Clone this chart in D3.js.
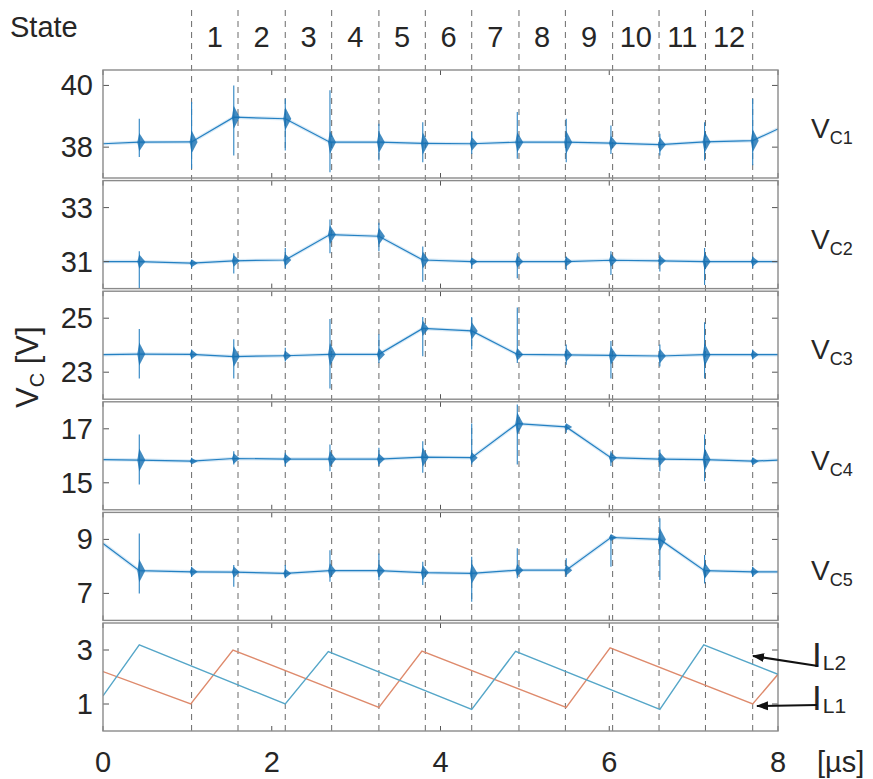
<!DOCTYPE html>
<html>
<head>
<meta charset="utf-8">
<script src="https://cdn.jsdelivr.net/npm/d3@7"></script>
<style>
  body { margin: 0; background: #fff; }
  text { font-family: "Liberation Sans", Arial, Helvetica, sans-serif; fill: #262626; }
</style>
</head>
<body>
<svg id="chart" width="873" height="779"></svg>
<script>
// ---- time axis (µs) ----
const xTicks = [0, 2, 4, 6, 8];
const stateEdges = [1.05, 1.60, 2.16, 2.71, 3.27, 3.82, 4.37, 4.93, 5.48, 6.04, 6.59, 7.14, 7.70];
const stateLabels = ["1", "2", "3", "4", "5", "6", "7", "8", "9", "10", "11", "12"];

// switching instants where the capacitor voltages ring
const switchTimes = [0.43, 1.05, 1.55, 2.16, 2.69, 3.27, 3.79, 4.37, 4.91, 5.49, 6.02, 6.60, 7.13, 7.70];

// capacitor voltage traces, sampled at these instants
const traceT = [0, 0.43, 1.05, 1.55, 2.16, 2.69, 3.27, 3.79, 4.37, 4.91, 5.49, 6.02, 6.60, 7.13, 7.70, 8.0];
const vc1 = [38.11, 38.16, 38.17, 38.97, 38.92, 38.16, 38.16, 38.12, 38.11, 38.16, 38.16, 38.13, 38.08, 38.17, 38.21, 38.59];
const vc2 = [31.0, 31.0, 30.94, 31.03, 31.06, 32.0, 31.94, 31.06, 31.0, 31.0, 31.0, 31.05, 31.03, 31.0, 31.0, 31.0];
const vc3 = [23.65, 23.67, 23.66, 23.58, 23.61, 23.66, 23.66, 24.62, 24.53, 23.66, 23.64, 23.62, 23.60, 23.65, 23.65, 23.65];
const vc4 = [15.86, 15.84, 15.80, 15.90, 15.88, 15.88, 15.88, 15.95, 15.93, 17.19, 17.07, 15.93, 15.88, 15.86, 15.80, 15.84];
const vc5 = [8.85, 7.84, 7.80, 7.79, 7.74, 7.84, 7.84, 7.77, 7.74, 7.86, 7.86, 9.07, 9.00, 7.84, 7.80, 7.80];

// ringing extremes at each switching instant (upper / lower)
const vc1Hi = [38.92, 39.46, 40.0, 39.57, 39.84, 38.76, 38.81, 38.49, 39.14, 38.92, 38.70, 38.43, 38.81, 39.57];
const vc1Lo = [37.68, 37.30, 37.73, 37.89, 37.19, 37.57, 37.51, 37.78, 37.62, 37.51, 37.78, 37.73, 37.57, 37.41];
const vc2Hi = [31.38, 31.06, 31.31, 31.50, 32.56, 32.44, 31.56, 31.13, 31.31, 31.19, 31.38, 31.25, 31.50, 31.19];
const vc2Lo = [30.00, 30.75, 30.56, 30.75, 31.31, 31.38, 30.25, 30.75, 30.38, 30.69, 30.50, 30.63, 30.13, 30.75];
const vc3Hi = [24.60, 23.84, 24.22, 23.91, 24.97, 24.41, 25.04, 25.04, 25.40, 24.03, 24.16, 24.03, 24.85, 23.84];
const vc3Lo = [22.77, 23.47, 22.77, 23.40, 22.40, 23.34, 23.59, 23.84, 23.34, 23.28, 22.77, 23.21, 22.77, 23.47];
const vc4Hi = [16.79, 15.93, 16.17, 16.11, 16.42, 16.30, 16.54, 17.20, 17.90, 17.16, 16.17, 16.23, 16.79, 15.93];
const vc4Lo = [14.94, 15.74, 15.68, 15.62, 15.43, 15.62, 15.37, 15.68, 15.68, 16.85, 15.62, 15.43, 15.06, 15.68];
const vc5Hi = [9.22, 7.99, 8.05, 8.05, 8.60, 8.48, 8.17, 8.36, 8.67, 8.30, 9.16, 9.78, 8.42, 7.99];
const vc5Lo = [7.00, 7.62, 7.25, 7.56, 7.43, 7.49, 7.31, 6.69, 7.56, 7.62, 7.99, 7.50, 7.37, 7.62];

// axis ranges and ticks per panel
const vcDomains = [[37, 40.5], [30, 34], [22, 26], [14, 18], [6, 10]];
const vcTicks = [[38, 40], [31, 33], [23, 25], [15, 17], [7, 9]];
const vcNames = ["C1", "C2", "C3", "C4", "C5"];

// inductor currents (A)
const il1T = [0, 1.04, 1.54, 3.27, 3.78, 5.49, 6.01, 7.70, 8.0];
const il1 = [2.2, 1.0, 3.0, 0.87, 2.96, 0.87, 3.08, 1.0, 2.1];
const il2T = [0, 0.43, 2.16, 2.67, 4.37, 4.89, 6.60, 7.12, 8.0];
const il2 = [1.3, 3.19, 1.0, 2.94, 0.8, 2.95, 0.8, 3.19, 2.1];
const ilDomain = [0, 4];
const ilTicks = [1, 3];

// ---- layout ----
const svg = d3.select("#chart");
svg.append("rect").attr("width", 873).attr("height", 779).attr("fill", "#fff");

const x = d3.scaleLinear().domain([0, 8]).range([103, 778]);
const panelH = 108;
const panelTop = i => 70 + i * 110.6;
const fs = 29;

const defs = svg.append("defs");
defs.append("marker").attr("id", "arr")
  .attr("viewBox", "0 0 12 10").attr("refX", 11).attr("refY", 5)
  .attr("markerWidth", 12).attr("markerHeight", 10)
  .attr("markerUnits", "userSpaceOnUse").attr("orient", "auto")
  .append("path").attr("d", "M12,5 L0,0.5 L0,9.5 Z").attr("fill", "#111");

function interp(ts, vs, t) {
  for (let i = 0; i < ts.length - 1; i++) {
    if (t >= ts[i] && t <= ts[i + 1]) {
      const f = (t - ts[i]) / (ts[i + 1] - ts[i]);
      return vs[i] + f * (vs[i + 1] - vs[i]);
    }
  }
  return vs[vs.length - 1];
}

function panelFrame(i, y, ticks) {
  const top = panelTop(i), bot = top + panelH;
  const g = svg.append("g");
  // y ticks, mirrored on both sides
  ticks.forEach(v => {
    g.append("line").attr("x1", x(0)).attr("x2", x(0) + 6).attr("y1", y(v)).attr("y2", y(v))
      .attr("stroke", "#555").attr("stroke-width", 1);
    g.append("line").attr("x1", x(8)).attr("x2", x(8) - 6).attr("y1", y(v)).attr("y2", y(v))
      .attr("stroke", "#555").attr("stroke-width", 1);
    g.append("text").attr("x", 93).attr("y", y(v) + 10).attr("text-anchor", "end")
      .attr("font-size", fs).text(v);
  });
  xTicks.forEach(t => {
    g.append("line").attr("x1", x(t)).attr("x2", x(t)).attr("y1", top).attr("y2", top + 5)
      .attr("stroke", "#555").attr("stroke-width", 1);
    g.append("line").attr("x1", x(t)).attr("x2", x(t)).attr("y1", bot).attr("y2", bot - 5)
      .attr("stroke", "#555").attr("stroke-width", 1);
  });
  g.append("rect").attr("x", x(0)).attr("y", top).attr("width", x(8) - x(0)).attr("height", panelH)
    .attr("fill", "none").attr("stroke", "#8a8a8a").attr("stroke-width", 1.4);
  defs.append("clipPath").attr("id", "clip" + i)
    .append("rect").attr("x", x(0)).attr("y", top).attr("width", x(8) - x(0)).attr("height", panelH);
}

// ---- state boundaries ----
const gDash = svg.append("g");
stateEdges.forEach(t => {
  gDash.append("line").attr("x1", x(t)).attr("x2", x(t)).attr("y1", 10).attr("y2", panelTop(5) + panelH)
    .attr("stroke", "#6a6a6a").attr("stroke-width", 1).attr("stroke-dasharray", "6,5");
});
svg.append("text").attr("x", 10).attr("y", 37).attr("font-size", fs).text("State");
stateLabels.forEach((s, i) => {
  svg.append("text").attr("x", (x(stateEdges[i]) + x(stateEdges[i + 1])) / 2).attr("y", 47)
    .attr("text-anchor", "middle").attr("font-size", fs).text(s);
});

// ---- capacitor voltage panels ----
const vcSeries = [vc1, vc2, vc3, vc4, vc5];
const vcHi = [vc1Hi, vc2Hi, vc3Hi, vc4Hi, vc5Hi];
const vcLo = [vc1Lo, vc2Lo, vc3Lo, vc4Lo, vc5Lo];

vcSeries.forEach((vals, i) => {
  const top = panelTop(i);
  const y = d3.scaleLinear().domain(vcDomains[i]).range([top + panelH, top]);
  const g = svg.append("g").attr("clip-path", `url(#clip${i})`);
  const pts = traceT.map((t, k) => ({ t, v: vals[k] }));
  const line = d3.line().x(d => x(d.t)).y(d => y(d.v));
  // measurement noise band
  g.append("path").attr("d", line(pts)).attr("fill", "none")
    .attr("stroke", "#7ab6e0").attr("stroke-width", 3.5).attr("stroke-opacity", 0.3);
  g.append("path").attr("d", line(pts)).attr("fill", "none")
    .attr("stroke", "#2480c2").attr("stroke-width", 1.2);
  // ringing at each switching instant
  switchTimes.forEach((t, k) => {
    const base = interp(traceT, vals, t);
    const px = x(t), py = y(base);
    const yHi = y(vcHi[i][k]), yLo = y(vcLo[i][k]);
    g.append("line").attr("x1", px).attr("x2", px).attr("y1", yHi).attr("y2", yLo)
      .attr("stroke", "#2a82c2").attr("stroke-width", 1.1);
    const h = Math.min(9, 0.45 * Math.min(py - yHi, yLo - py)) + 2.5;
    g.append("path")
      .attr("d", `M${px - 2},${py} L${px},${py - h} L${px + 6},${py} L${px},${py + h} Z`)
      .attr("fill", "#156fb2").attr("fill-opacity", 0.8);
  });
  panelFrame(i, y, vcTicks[i]);
  const lbl = svg.append("text").attr("x", 811).attr("y", top + panelH / 2 + 14).attr("font-size", 28);
  lbl.append("tspan").text("V");
  lbl.append("tspan").attr("font-size", 18).attr("dy", 6).text(vcNames[i]);
});

// ---- inductor current panel ----
{
  const i = 5;
  const top = panelTop(i);
  const y = d3.scaleLinear().domain(ilDomain).range([top + panelH, top]);
  const g = svg.append("g").attr("clip-path", `url(#clip${i})`);
  const line = d3.line().x(d => x(d.t)).y(d => y(d.v));
  g.append("path").attr("d", line(il1T.map((t, k) => ({ t, v: il1[k] }))))
    .attr("fill", "none").attr("stroke", "#de8a6c").attr("stroke-width", 1.4);
  g.append("path").attr("d", line(il2T.map((t, k) => ({ t, v: il2[k] }))))
    .attr("fill", "none").attr("stroke", "#55a6c8").attr("stroke-width", 1.4);
  panelFrame(i, y, ilTicks);

  xTicks.forEach(t => {
    svg.append("text").attr("x", x(t)).attr("y", 772).attr("text-anchor", "middle")
      .attr("font-size", fs).text(t);
  });
  svg.append("text").attr("x", 817).attr("y", 772).attr("font-size", fs).text("[µs]");

  // series labels with pointers
  const lab = (yb, sub) => {
    const t = svg.append("text").attr("x", 812).attr("y", yb).attr("font-size", 35);
    t.append("tspan").text("I");
    t.append("tspan").attr("font-size", 21).attr("dy", 3).attr("dx", 1).text(sub);
  };
  lab(667, "L2");
  lab(710, "L1");
  svg.append("line").attr("x1", 818).attr("y1", 666).attr("x2", 753).attr("y2", 656)
    .attr("stroke", "#111").attr("stroke-width", 2).attr("marker-end", "url(#arr)");
  svg.append("line").attr("x1", 817).attr("y1", 705).attr("x2", 757).attr("y2", 706)
    .attr("stroke", "#111").attr("stroke-width", 2).attr("marker-end", "url(#arr)");
}

// ---- y axis title ----
{
  const t = svg.append("text").attr("transform", "translate(38,408) rotate(-90)").attr("font-size", 31);
  t.append("tspan").text("V");
  t.append("tspan").attr("font-size", 20).attr("dy", 6).text("C");
  t.append("tspan").attr("dy", -6).text(" [V]");
}
</script>
</body>
</html>
